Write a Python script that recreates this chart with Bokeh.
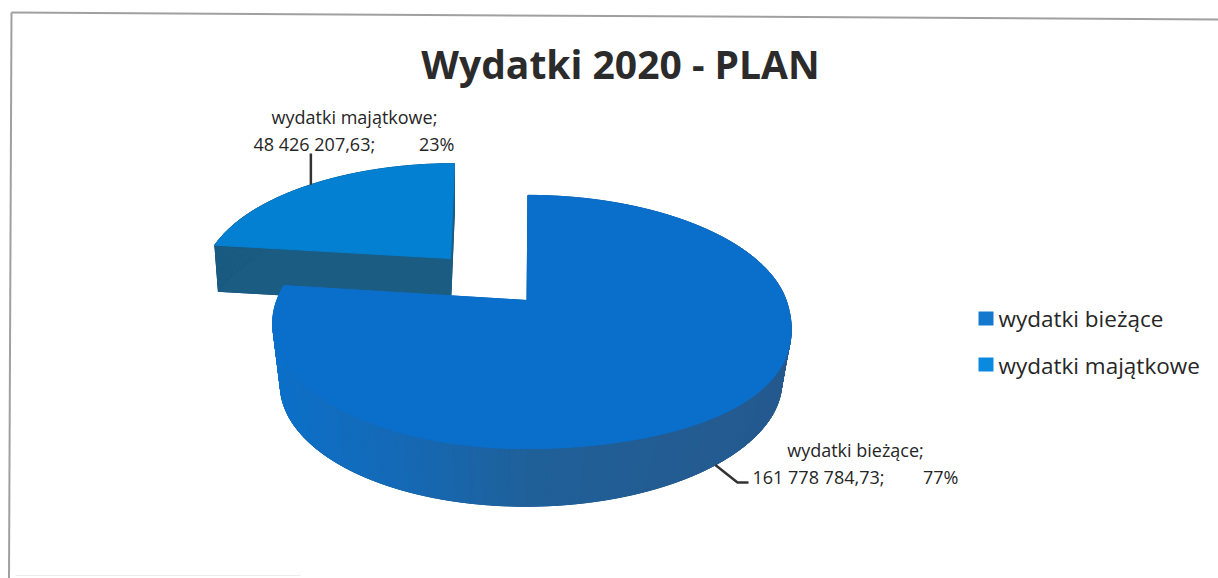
import numpy as np
from bokeh.plotting import figure
from bokeh.models import Range1d
from bokeh.core.properties import value
from bokeh.embed import file_html
from bokeh.resources import INLINE

title_text = "Wydatki 2020 - PLAN"
categories = ["wydatki bieżące", "wydatki majątkowe"]
amounts = [161778784.73, 48426207.63]
amount_labels = ["161 778 784,73;", "48 426 207,63;"]
pct_labels = ["77%", "23%"]

top_colors = ["#0a6fcb", "#0480d2"]
legend_colors = ["#1478cc", "#0a8ade"]
INK = "#262626"
FONT = "Open Sans"

W, H = 1218, 578
p = figure(width=W, height=H, output_backend="svg", toolbar_location=None,
           x_range=Range1d(0, W), y_range=Range1d(H, 0),
           min_border=0, border_fill_color="white", background_fill_color="white")
p.axis.visible = False
p.grid.visible = False
p.outline_line_color = None

# frame
p.line([11, 1218], [12, 19], line_color="#a0a0a0", line_width=2)
p.line([11, 8.5], [12, 578], line_color="#a0a0a0", line_width=2)
p.line([15, 300], [575, 575], line_color="#ececec", line_width=1)

total = sum(amounts)
fracs = [a / total for a in amounts]
K = 0.17


def hex_mix(stops, t):
    rgb = [[int(c[i:i + 2], 16) for i in (1, 3, 5)] for c in stops]
    pos = np.linspace(0, 1, len(stops))
    return "#%02x%02x%02x" % tuple(int(round(np.interp(t, pos, [r[k] for r in rgb]))) for k in range(3))


class Pie:
    def __init__(s, ax, ay, rx, ry, b, skew, depth, shrink, bulge):
        s.ax, s.ay, s.rx, s.ry, s.b, s.skew = ax, ay, rx, ry, b, skew
        s.depth, s.shrink, s.bulge = depth, shrink, bulge

    def pt(s, a, lower=False):
        # a: clockwise from twelve o'clock, radians
        u, v = np.sin(a), np.cos(a)
        d = 1 + K * v
        X = s.rx * u / d + s.b * u * u
        Y = s.ry * v / d
        if not lower:
            X = X + s.bulge * np.maximum(u, 0) * np.maximum(-v, 0) ** 2
        f = s.shrink if lower else 1.0
        off = s.depth if lower else 0.0
        return s.ax + f * (X + s.skew * Y), s.ay + off - f * Y

    def apex(s, lower=False):
        return s.ax, s.ay + (s.depth if lower else 0.0)


def draw(pie, a0, a1, top, wall_stops):
    t = np.linspace(a0, a1, 361)
    tx, ty = pie.pt(t)
    bx, by = pie.pt(t, True)
    ax, ay = pie.apex(True)
    ax0, ay0 = pie.apex()
    xmin, xmax = bx.min(), bx.max()

    def shade(x):
        return hex_mix(wall_stops, float(np.clip((x - xmin) / (xmax - xmin), 0, 1)))

    # lower face and cut faces
    p.patch(np.r_[ax, bx], np.r_[ay, by], fill_color=shade(ax), line_color=shade(ax))
    for i in (0, -1):
        c = shade(bx[i])
        p.patch([ax0, tx[i], bx[i], ax], [ay0, ty[i], by[i], ay], fill_color=c, line_color=c)
    # curved wall, shaded along its length
    xs, ys, cs = [], [], []
    for i in range(len(t) - 1):
        xs.append([tx[i], tx[i + 1], bx[i + 1], bx[i]])
        ys.append([ty[i], ty[i + 1], by[i + 1], by[i]])
        cs.append(shade((bx[i] + bx[i + 1]) / 2))
    p.patches(xs, ys, fill_color=cs, line_color=cs, line_width=1)
    # upper face
    p.patch(np.r_[ax0, tx], np.r_[ay0, ty], fill_color=top, line_color=top)


sweep = [f * 2 * np.pi for f in fracs]
main = Pie(526.5, 300, 254.7, 123, 4.5, 0.01, 62, 0.97, 45)
side = Pie(450, 258, 243, 111, 0, 0.042, 46, 0.985, 0)

main_wall = ["#0c70c9", "#1569b5", "#1f6099", "#235c92", "#255a8e"]
side_wall = ["#1b5c82", "#1b5c82"]

# the detached slice sits behind the large one
draw(side, sweep[0], sweep[0] + sweep[1], top_colors[1], side_wall)
draw(main, 0, sweep[0], top_colors[0], main_wall)

# leader lines at each slice's middle angle
mid_side = sweep[0] + sweep[1] / 2
lx, ly = side.pt(mid_side)
p.line([lx, lx], [ly, 153], line_color="#333333", line_width=2.5)
mid_main = sweep[0] / 2
lx, ly = main.pt(mid_main, True)
p.line([lx, 737, 748], [ly, 482, 482], line_color="#333333", line_width=2.5)


def txt(x, y, s, size, align="left", style="normal", color=INK):
    # y is the wanted baseline; the svg text sits about 0.43 em below its anchor
    p.text([x], [y - 0.43 * size], text=[s], text_font=value(FONT), text_font_size=f"{size}px",
           text_align=align, text_baseline="alphabetic", text_color=color, text_font_style=style)


txt(620, 80, title_text, 39, "center", "bold", "#2b2b2b")

LBL = 18
txt(354, 124, categories[1] + ";", LBL, "center")
txt(253, 151, amount_labels[1], LBL)
txt(454, 151, pct_labels[1], LBL, "right")

txt(855, 457, categories[0] + ";", LBL, "center")
txt(752, 484, amount_labels[0], LBL)
txt(958, 484, pct_labels[0], LBL, "right")

# legend
legend_y = [328, 375]
legend_box_y = [318, 364]
for i, cat in enumerate(categories):
    p.rect([985.5], [legend_box_y[i]], width=15, height=14, fill_color=legend_colors[i], line_color=None)
    txt(998, legend_y[i], cat, 22.5)

open("out.html", "w").write(file_html(p, INLINE))
